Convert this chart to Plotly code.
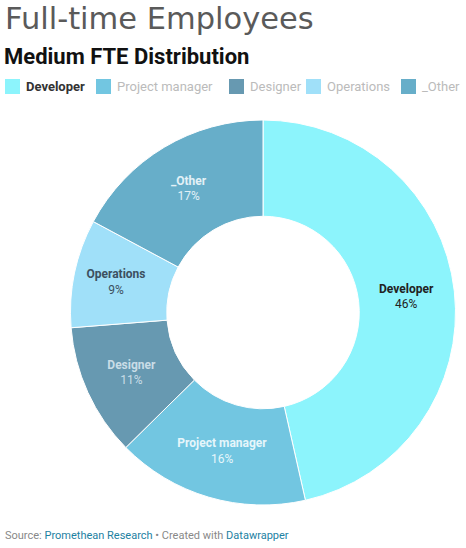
import plotly.graph_objects as go

W, H = 466, 548

# slice data
roles = ["Developer", "Project manager", "Designer", "Operations", "_Other"]
shares = [46, 16, 11, 9, 17]
colors = ["#8cf4fc", "#72c6e1", "#6799b1", "#a0e0f9", "#67aec9"]
label_colors = ["#222222", "#e6f6fb", "#c9dde7", "#3c5060", "#e3f1f7"]


def px(x):
    return x / W


def py(y):
    return 1 - y / H


fig = go.Figure()
fig.add_trace(go.Pie(
    labels=roles,
    values=shares,
    sort=False,
    direction="clockwise",
    rotation=0,
    hole=0.5,
    marker=dict(colors=colors, line=dict(color="white", width=1)),
    texttemplate="<b>%{label}</b><br>%{value}%",
    textposition="inside",
    insidetextorientation="horizontal",
    textfont=dict(family="Roboto", size=12, color=label_colors),
    hoverinfo="skip",
    domain=dict(x=[px(70), px(456)], y=[py(505), py(120)]),
))

fig.update_layout(
    width=W,
    height=H,
    margin=dict(l=0, r=0, t=0, b=0),
    paper_bgcolor="white",
    plot_bgcolor="white",
    font=dict(family="Roboto", color="#333333"),
    showlegend=False,
    uniformtext=dict(minsize=8, mode="show"),
)

# legend drawn by hand so it sits on one row like the original
legend_x = [5, 96, 229, 306, 401]
for i, r in enumerate(roles):
    x0 = legend_x[i]
    fig.add_shape(type="rect", xref="paper", yref="paper",
                  x0=px(x0), x1=px(x0 + 15), y0=py(94), y1=py(79),
                  fillcolor=colors[i], line=dict(width=0))
    txt = "<b>%s</b>" % r if i == 0 else r
    fig.add_annotation(
        text=txt, x=px(x0 + 19), y=py(87), xref="paper", yref="paper",
        xanchor="left", yanchor="middle", showarrow=False,
        font=dict(family="Roboto", size=13, color="#333333" if i == 0 else "#bbbbbb"),
    )

fig.add_annotation(
    text="Full-time Employees", x=px(4), y=1, xref="paper", yref="paper",
    xanchor="left", yanchor="top", showarrow=False, borderpad=0,
    font=dict(family="DejaVu Sans", size=30.5, color="#5a5a5a"),
)
fig.add_annotation(
    text="<b>Medium FTE Distribution</b>", x=px(2), y=py(57), xref="paper", yref="paper",
    xanchor="left", yanchor="middle", showarrow=False,
    font=dict(family="Roboto", size=22, color="#111111"),
)
fig.add_annotation(
    text="Source: <span style='color:#1d81a2'>Promethean Research</span> • Created with <span style='color:#1d81a2'>Datawrapper</span>",
    x=px(3), y=py(535), xref="paper", yref="paper",
    xanchor="left", yanchor="middle", showarrow=False,
    font=dict(family="Roboto", size=11, color="#888888"),
)

fig.write_html("out.html", config={"displayModeBar": False},
               post_script="document.body.style.margin='0';")
